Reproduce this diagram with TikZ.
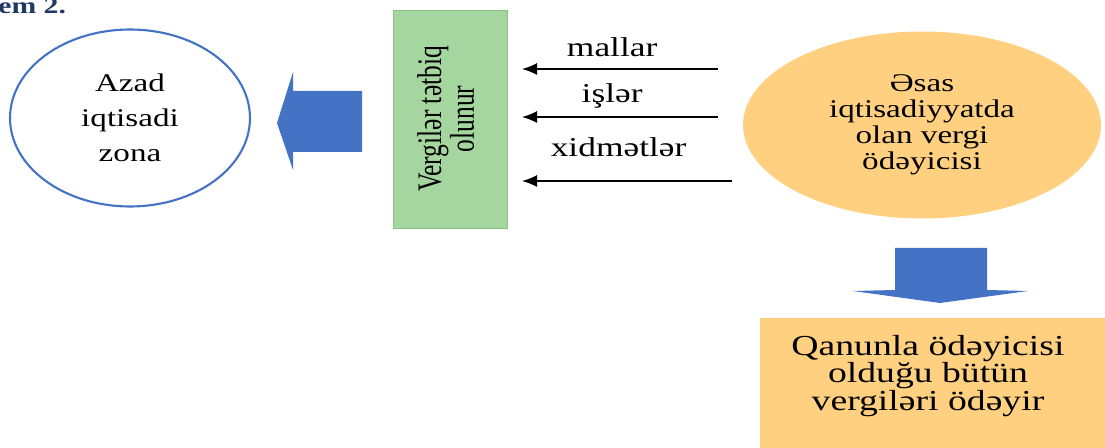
\documentclass[tikz,border=0pt]{standalone}
\usepackage{fontspec}
\setmainfont{Liberation Serif}[FakeStretch=1.3]
\newfontfamily\plainserif{Liberation Serif}
\usetikzlibrary{shapes.geometric, arrows.meta, positioning}

\definecolor{arrowblue}{HTML}{4472C4}
\definecolor{boxgreen}{HTML}{A6D6A0}
\definecolor{boxgreenline}{HTML}{86C47F}
\definecolor{boxorange}{HTML}{FFD080}
\definecolor{titleblue}{HTML}{1F3864}

\begin{document}
\begin{tikzpicture}[x=0.02cm, y=-0.02cm]
    \useasboundingbox (0, 0) rectangle (1105, 448);
    \node[anchor=base west, inner sep=0, font=\fontsize{13}{15}\selectfont\bfseries, text=titleblue] (sxem) at (-2, 14) {em 2.};

    % free zone on the left
    \node[ellipse, draw=arrowblue, line width=1.2pt, fill=white, minimum width=4.8cm, minimum height=3.54cm,
        inner sep=0, align=center, font=\fontsize{14.5}{20}\selectfont] (zona) at (130, 118) {Azad\\iqtisadi\\zona};
    \fill[arrowblue] (362, 91) -- (293, 91) -- (293, 72) -- (277, 123) -- (293, 170) -- (293, 152) -- (362, 152) -- cycle;

    \node[rectangle, rotate=90, draw=boxgreenline, fill=boxgreen, minimum width=4.36cm, minimum height=2.28cm,
        inner sep=0] (vergi) at (450, 119)
        {\scalebox{1}[1.35]{\plainserif\fontsize{14.5}{12.6}\selectfont\begin{tabular}{@{}c@{}}Vergilər tətbiq\\olunur\end{tabular}}};

    % payer in the main economy
    \node[ellipse, fill=boxorange, minimum width=7.16cm, minimum height=3.74cm, inner sep=0, align=center,
        font=\fontsize{14.5}{14.8}\selectfont] (odeyici) at (922, 125) {Əsas\\iqtisadiyyatda\\olan vergi\\ödəyicisi};

    \foreach \y/\x/\lab/\up in {69/718/mallar/12, 117/718/işlər/14, 181/732/xidmətlər/24}
    {
        \coordinate (from\y) at (\x, \y);
        \coordinate (to\y) at (522, \y);
        \draw[-{Latex[length=0.3cm, width=0.24cm]}, line width=0.8pt] (from\y) -- (to\y)
            node[pos=.54, anchor=base, yshift=\up*0.02cm, font=\fontsize{15.5}{18}\selectfont] (lab\y) {\lab};
    }

    \fill[arrowblue] (895, 248) -- (987, 248) -- (987, 290) -- (1028, 291) -- (940, 303) -- (853, 291) -- (895, 290) -- cycle;
    \node[rectangle, fill=boxorange, anchor=north west, minimum width=7.2cm, minimum height=2.8cm] (qanun) at (760, 318) {};
    \node[align=center, font=\fontsize{16.5}{15.5}\selectfont] (qanuntext) at (928, 376) {Qanunla ödəyicisi\\olduğu bütün\\vergiləri ödəyir};
\end{tikzpicture}
\end{document}
